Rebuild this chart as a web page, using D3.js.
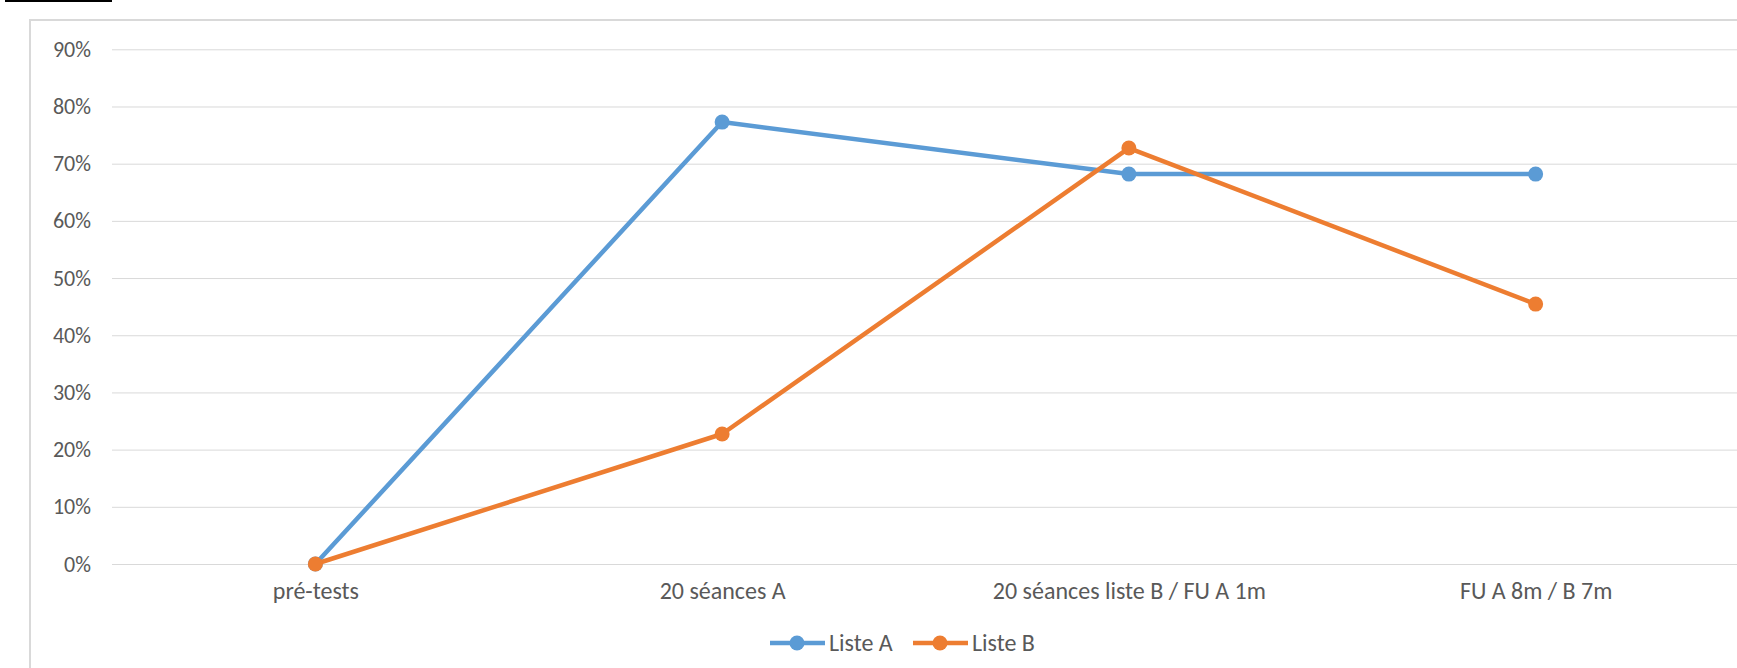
<!DOCTYPE html>
<html>
<head>
<meta charset="utf-8">
<script src="https://cdn.jsdelivr.net/npm/d3@7"></script>
<style>
  body { margin: 0; background: #fff; overflow: hidden; }
  svg { display: block; }
</style>
</head>
<body>
<svg id="chart" width="1737" height="668"></svg>
<script>
// Data
const categories = ['pré-tests', '20 séances A', '20 séances liste B / FU A 1m', 'FU A 8m / B 7m'];
const listeA = [0, 0.7727, 0.6818, 0.6818];
const listeB = [0, 0.2273, 0.7273, 0.4545];
const yTicks = [0, 0.1, 0.2, 0.3, 0.4, 0.5, 0.6, 0.7, 0.8, 0.9];
const seriesNames = ['Liste A', 'Liste B'];
const colors = ['#5B9BD5', '#ED7D31'];

const FONT = 'Carlito, Lato, sans-serif';
const TEXT_COLOR = '#595959';

const svg = d3.select('#chart');

// Plot box
const plotLeft = 112, plotRight = 1739, plotTop = 49.3, plotBottom = 564;

const x = d3.scalePoint().domain(categories).range([plotLeft, plotRight]).padding(0.5);
const y = d3.scaleLinear().domain([0, 0.9]).range([plotBottom, plotTop]);

// Fragment of the underlined caption above the chart
svg.append('rect')
    .attr('x', 5).attr('y', 0).attr('width', 107).attr('height', 2)
    .attr('fill', '#000');

// Chart border
svg.append('rect')
    .attr('x', 30).attr('y', 20)
    .attr('width', 1800).attr('height', 700)
    .attr('fill', 'none')
    .attr('stroke', '#d9d9d9')
    .attr('stroke-width', 2);

// Y axis with gridlines
const yAxis = svg.append('g')
    .attr('transform', `translate(${plotLeft},0)`)
    .call(d3.axisLeft(y)
        .tickValues(yTicks)
        .tickFormat(d3.format('.0%'))
        .tickSize(-(plotRight - plotLeft))
        .tickPadding(21));
yAxis.select('.domain').remove();
yAxis.selectAll('line').attr('stroke', '#d9d9d9').attr('stroke-width', 1);
yAxis.attr('font-family', FONT).attr('font-size', '22px');
yAxis.selectAll('text').attr('fill', TEXT_COLOR);

// X axis labels
const xAxis = svg.append('g')
    .attr('transform', `translate(0,${plotBottom})`)
    .call(d3.axisBottom(x).tickSize(0).tickPadding(18));
xAxis.select('.domain').remove();
xAxis.attr('font-family', FONT).attr('font-size', '24px');
xAxis.selectAll('text').attr('fill', TEXT_COLOR);

// Lines and markers
const line = d3.line()
    .x((d, i) => x(categories[i]))
    .y(d => y(d));

[listeA, listeB].forEach((values, s) => {
    svg.append('path')
        .datum(values)
        .attr('d', line)
        .attr('fill', 'none')
        .attr('stroke', colors[s])
        .attr('stroke-width', 4.5)
        .attr('stroke-linejoin', 'round');

    svg.append('g')
        .selectAll('circle')
        .data(values)
        .join('circle')
        .attr('cx', (d, i) => x(categories[i]))
        .attr('cy', d => y(d))
        .attr('r', 7.5)
        .attr('fill', colors[s]);
});

// Legend
const legendX = [770, 913];
const legend = svg.append('g')
    .attr('font-family', FONT)
    .attr('font-size', '24px')
    .selectAll('g')
    .data(seriesNames)
    .join('g')
    .attr('transform', (d, i) => `translate(${legendX[i]},643)`);

legend.append('line')
    .attr('x1', 0).attr('x2', 55)
    .attr('stroke', (d, i) => colors[i])
    .attr('stroke-width', 4.5);
legend.append('circle')
    .attr('cx', 27).attr('r', 7.5)
    .attr('fill', (d, i) => colors[i]);
legend.append('text')
    .attr('x', 59).attr('dy', '0.35em')
    .attr('fill', TEXT_COLOR)
    .text(d => d);
</script>
</body>
</html>
